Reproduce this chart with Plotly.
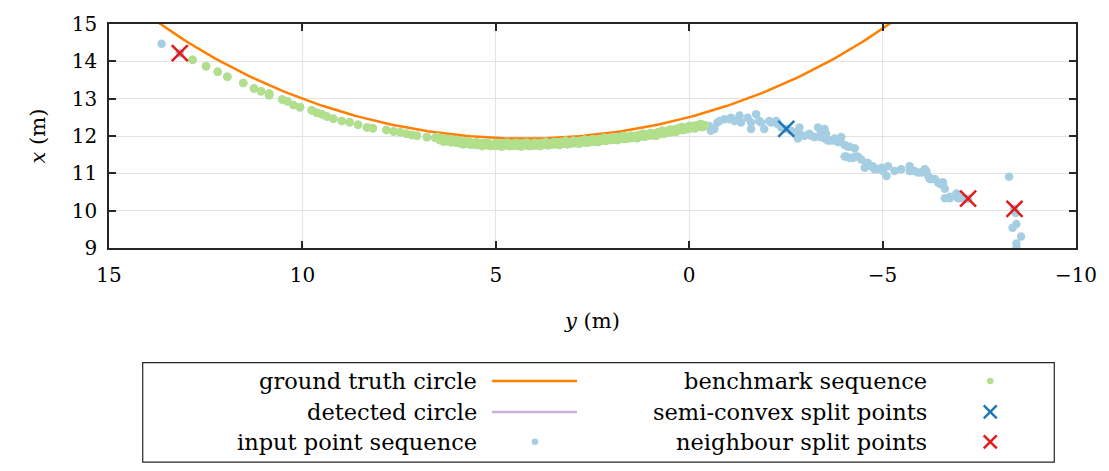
import numpy as np
import plotly.graph_objects as go

# ---------------- data (y = horizontal, x = vertical; metres) ----------------
gt_center_y = 4.25
gt_center_x = 27.93
gt_radius = 16.0

bench_y = [12.84, 12.49, 12.19, 11.94, 11.53, 11.25, 11.07, 10.86, 10.86, 10.52, 10.39, 10.23, 10.06,
           9.76, 9.63, 9.50, 9.37, 9.20, 8.98, 8.78, 8.56, 8.33, 8.18, 7.83, 7.64, 7.47, 7.31, 7.17,
           7.04, 6.78, 6.56,
           6.50, 6.45, 6.40, 6.35, 6.30, 6.25, 6.20, 6.15, 6.10, 6.05, 6.00, 5.95, 5.90, 5.85, 5.80,
           5.75, 5.70, 5.65, 5.60, 5.55, 5.50, 5.45, 5.40, 5.35, 5.30, 5.25, 5.20, 5.15, 5.10, 5.05,
           5.00, 4.95, 4.90, 4.85, 4.80, 4.75, 4.70, 4.65, 4.60, 4.55, 4.50, 4.45, 4.40, 4.35, 4.30,
           4.25, 4.20, 4.15, 4.10, 4.05, 4.00, 3.95, 3.90, 3.85, 3.80, 3.75, 3.70, 3.65, 3.60, 3.55,
           3.50, 3.45, 3.40, 3.35, 3.30, 3.25, 3.20, 3.15, 3.10, 3.05, 3.00, 2.95, 2.90, 2.85, 2.80,
           2.75, 2.70, 2.65, 2.60, 2.55, 2.50, 2.45, 2.40, 2.35, 2.30, 2.25, 2.20, 2.15, 2.10, 2.05,
           2.00, 1.95, 1.90, 1.85, 1.80, 1.75, 1.70, 1.65, 1.60, 1.55, 1.50, 1.45, 1.40, 1.35, 1.30,
           1.25, 1.20, 1.15, 1.10, 1.05, 1.00, 0.95, 0.90, 0.85, 0.80, 0.75, 0.70, 0.65, 0.60, 0.55,
           0.50, 0.45, 0.40, 0.35, 0.30, 0.25, 0.20, 0.15, 0.10, 0.05, 0.00, -0.05, -0.10, -0.15,
           -0.20, -0.25, -0.30, -0.35, -0.40]
bench_x = [14.04, 13.87, 13.72, 13.59, 13.42, 13.27, 13.20, 13.14, 13.09, 12.98, 12.93, 12.83, 12.77,
           12.69, 12.62, 12.58, 12.52, 12.46, 12.40, 12.37, 12.30, 12.23, 12.21, 12.16, 12.12, 12.10,
           12.06, 12.03, 12.01, 11.97, 11.95,
           11.97, 11.89, 11.93, 11.85, 11.92, 11.86, 11.92, 11.83, 11.87, 11.83, 11.89, 11.81, 11.85,
           11.78, 11.85, 11.80, 11.86, 11.77, 11.81, 11.77, 11.83, 11.76, 11.80, 11.73, 11.81, 11.76,
           11.82, 11.73, 11.78, 11.74, 11.81, 11.74, 11.79, 11.72, 11.80, 11.75, 11.82, 11.73, 11.78,
           11.74, 11.81, 11.74, 11.79, 11.72, 11.80, 11.75, 11.82, 11.73, 11.78, 11.74, 11.81, 11.75,
           11.80, 11.73, 11.81, 11.77, 11.84, 11.75, 11.80, 11.77, 11.84, 11.78, 11.83, 11.76, 11.84,
           11.80, 11.87, 11.78, 11.83, 11.80, 11.87, 11.81, 11.86, 11.79, 11.87, 11.83, 11.90, 11.82,
           11.87, 11.84, 11.91, 11.85, 11.90, 11.84, 11.92, 11.88, 11.95, 11.87, 11.92, 11.89, 11.96,
           11.90, 11.95, 11.89, 11.97, 11.93, 12.00, 11.92, 11.97, 11.94, 12.01, 11.95, 12.00, 11.94,
           12.03, 11.99, 12.06, 11.98, 12.04, 12.01, 12.08, 12.02, 12.07, 12.01, 12.10, 12.06, 12.14,
           12.06, 12.12, 12.09, 12.17, 12.11, 12.17, 12.11, 12.20, 12.16, 12.24, 12.16, 12.22, 12.19,
           12.27, 12.21, 12.27, 12.21, 12.29, 12.25, 12.32, 12.24, 12.29]

input_left_y = [13.64, 13.17]
input_left_x = [14.47, 14.22]
input_right_y = [-0.52, -0.56, -0.65, -0.73, -0.78, -0.91, -1.04, -1.08, -1.17, -1.30, -1.34, -1.51,
                 -1.60, -1.60, -1.73, -1.81, -1.86, -1.94, -2.07, -2.12, -2.25, -2.29, -2.38, -2.51,
                 -2.63, -2.76, -2.81, -2.85, -2.85, -2.98, -3.11, -3.15, -3.24, -3.33, -3.41, -3.41,
                 -3.50, -3.50, -3.54, -3.58, -3.63, -3.71, -3.76, -3.84, -3.89, -3.93, -4.02, -4.10,
                 -4.15, -4.28, -4.02, -4.06, -4.15, -4.23, -4.28, -4.36, -4.45, -4.54, -4.58, -4.62,
                 -4.71, -4.75, -4.79, -4.88, -4.97, -5.01, -5.10, -5.14, -5.31, -5.48, -5.70, -5.70,
                 -5.83, -5.92, -6.00, -6.09, -6.13, -6.18, -6.22, -6.26, -6.35, -6.43, -6.48, -6.56,
                 -6.56, -6.61, -6.61, -6.74, -6.74, -6.91, -6.95, -7.04, -7.21, -8.27, -8.40, -8.44,
                 -8.46, -8.36, -8.58, -8.46, -8.46]
input_right_x = [12.27, 12.14, 12.19, 12.36, 12.40, 12.45, 12.45, 12.49, 12.40, 12.55, 12.36, 12.49,
                 12.36, 12.19, 12.58, 12.40, 12.36, 12.19, 12.40, 12.36, 12.40, 12.32, 12.23, 12.19,
                 12.14, 12.10, 11.93, 12.06, 12.23, 12.01, 12.06, 12.01, 11.97, 12.23, 12.10, 11.97,
                 11.93, 12.19, 12.06, 11.88, 11.88, 11.88, 11.93, 11.84, 11.84, 11.97, 11.76, 11.71,
                 11.71, 11.67, 11.45, 11.45, 11.41, 11.41, 11.45, 11.45, 11.37, 11.15, 11.28, 11.28,
                 11.19, 11.19, 11.11, 11.11, 11.15, 11.06, 10.93, 11.19, 11.06, 11.11, 11.19, 11.06,
                 11.06, 11.02, 11.02, 11.11, 11.06, 10.93, 10.85, 10.85, 10.85, 10.76, 10.72, 10.68,
                 10.76, 10.59, 10.33, 10.33, 10.37, 10.46, 10.33, 10.33, 10.32, 10.91, 10.05, 9.94,
                 9.64, 9.54, 9.31, 9.12, 8.99]

semi_convex_y = [-2.51]
semi_convex_x = [12.19]
neighbour_y = [13.17, -7.21, -8.41]
neighbour_x = [14.22, 10.32, 10.05]

xtick_vals = [15, 10, 5, 0, -5, -10]
xtick_text = ["15", "10", "5", "0", "\u22125", "\u221210"]
ytick_vals = [9, 10, 11, 12, 13, 14, 15]

legend_col1 = ["ground truth circle", "detected circle", "input point sequence"]
legend_col2 = ["benchmark sequence", "semi-convex split points", "neighbour split points"]

C_ORANGE = "#ff7f00"
C_PURPLE = "#cab2d6"
C_LBLUE = "#a6cee3"
C_GREEN = "#b2df8a"
C_DBLUE = "#1f78b4"
C_RED = "#e31a1c"

FONT = "DejaVu Serif"
FS_TICK = 20
FS_TEXT = 22.5

theta = np.linspace(0, 2 * np.pi, 721)
gt_y = gt_center_y + gt_radius * np.cos(theta)
gt_x = gt_center_x + gt_radius * np.sin(theta)

fig = go.Figure()
fig.add_trace(go.Scatter(x=gt_y, y=gt_x, mode="lines", line=dict(color=C_ORANGE, width=2.5),
                         name=legend_col1[0], showlegend=False))
fig.add_trace(go.Scatter(x=[None], y=[None], mode="lines", line=dict(color=C_PURPLE, width=2.5),
                         name=legend_col1[1], showlegend=False))
fig.add_trace(go.Scatter(x=input_left_y + bench_y + input_right_y,
                         y=input_left_x + bench_x + input_right_x,
                         mode="markers", marker=dict(color=C_LBLUE, size=8.5, line=dict(width=0)),
                         name=legend_col1[2], showlegend=False))
fig.add_trace(go.Scatter(x=bench_y, y=bench_x, mode="markers",
                         marker=dict(color=C_GREEN, size=8.5, line=dict(width=0)),
                         name=legend_col2[0], showlegend=False))
fig.add_trace(go.Scatter(x=semi_convex_y, y=semi_convex_x, mode="markers",
                         marker=dict(symbol="x-thin", size=16, line=dict(color=C_DBLUE, width=2.5)),
                         name=legend_col2[1], showlegend=False))
fig.add_trace(go.Scatter(x=neighbour_y, y=neighbour_x, mode="markers",
                         marker=dict(symbol="x-thin", size=16, line=dict(color=C_RED, width=2.5)),
                         name=legend_col2[2], showlegend=False))

axis_common = dict(showline=True, linecolor="#262626", linewidth=1.5, mirror="ticks",
                   ticks="inside", ticklen=7, tickwidth=1.5, tickcolor="#262626",
                   showgrid=True, gridcolor="#e3e3e3", gridwidth=1, zeroline=False,
                   tickfont=dict(family=FONT, size=FS_TICK, color="black"))

fig.update_xaxes(range=[15, -10], tickvals=xtick_vals, ticktext=xtick_text, ticklabelstandoff=8,
                 title=dict(text="<i>y</i> (m)", font=dict(family=FONT, size=FS_TICK + 1, color="black"),
                            standoff=28),
                 **axis_common)
fig.update_yaxes(range=[9, 15], tickvals=ytick_vals, ticklabelstandoff=6,
                 title=dict(text="<i>x</i> (m)", font=dict(family=FONT, size=FS_TICK + 1, color="black"),
                            standoff=20),
                 **axis_common)

PL, PR, PT, PB = 109.3, 1075.7, 16.4, 248.3


def px(xpix):
    return (xpix - PL) / (PR - PL)


def py(ypix):
    return (PB - ypix) / (PB - PT)


shapes = [dict(type="rect", xref="paper", yref="paper", x0=px(143), x1=px(1054), y0=py(367), y1=py(470),
               line=dict(color="#262626", width=1.2), fillcolor="white", layer="below")]
rows = [386, 418, 449]
annotations = []
for i, t in enumerate(legend_col1):
    annotations.append(dict(text=t, xref="paper", yref="paper", x=px(479), y=py(rows[i]),
                            xanchor="right", yanchor="middle", showarrow=False,
                            font=dict(family=FONT, size=FS_TEXT, color="black")))
for i, t in enumerate(legend_col2):
    annotations.append(dict(text=t, xref="paper", yref="paper", x=px(929), y=py(rows[i]),
                            xanchor="right", yanchor="middle", showarrow=False,
                            font=dict(family=FONT, size=FS_TEXT, color="black")))
for i, col in enumerate([C_ORANGE, C_PURPLE]):
    shapes.append(dict(type="line", xref="paper", yref="paper", x0=px(492), x1=px(577),
                       y0=py(rows[i]), y1=py(rows[i]), line=dict(color=col, width=2.5)))


def dot(xc, yc, col, d):
    return dict(type="circle", xref="paper", yref="paper", xsizemode="pixel", ysizemode="pixel",
                xanchor=px(xc), yanchor=py(yc), x0=-d / 2, x1=d / 2, y0=-d / 2, y1=d / 2,
                fillcolor=col, line=dict(width=0))


def cross(xc, yc, col, s):
    out = []
    for (a, b) in [(-1, -1), (-1, 1)]:
        out.append(dict(type="line", xref="paper", yref="paper", xsizemode="pixel", ysizemode="pixel",
                        xanchor=px(xc), yanchor=py(yc), x0=a * s / 2, x1=-a * s / 2,
                        y0=b * s / 2, y1=-b * s / 2, line=dict(color=col, width=2.5)))
    return out


shapes.append(dot(535, rows[2], C_LBLUE, 6.5))
shapes.append(dot(990, rows[0], C_GREEN, 6.5))
shapes += cross(990, rows[1], C_DBLUE, 13)
shapes += cross(990, rows[2], C_RED, 13)

fig.update_layout(width=1109, height=471, margin=dict(l=PL, r=1109 - PR, t=PT, b=471 - PB),
                  plot_bgcolor="white", paper_bgcolor="white", showlegend=False,
                  shapes=shapes, annotations=annotations,
                  font=dict(family=FONT, size=FS_TEXT, color="black"))

fig.write_html("out.html")
